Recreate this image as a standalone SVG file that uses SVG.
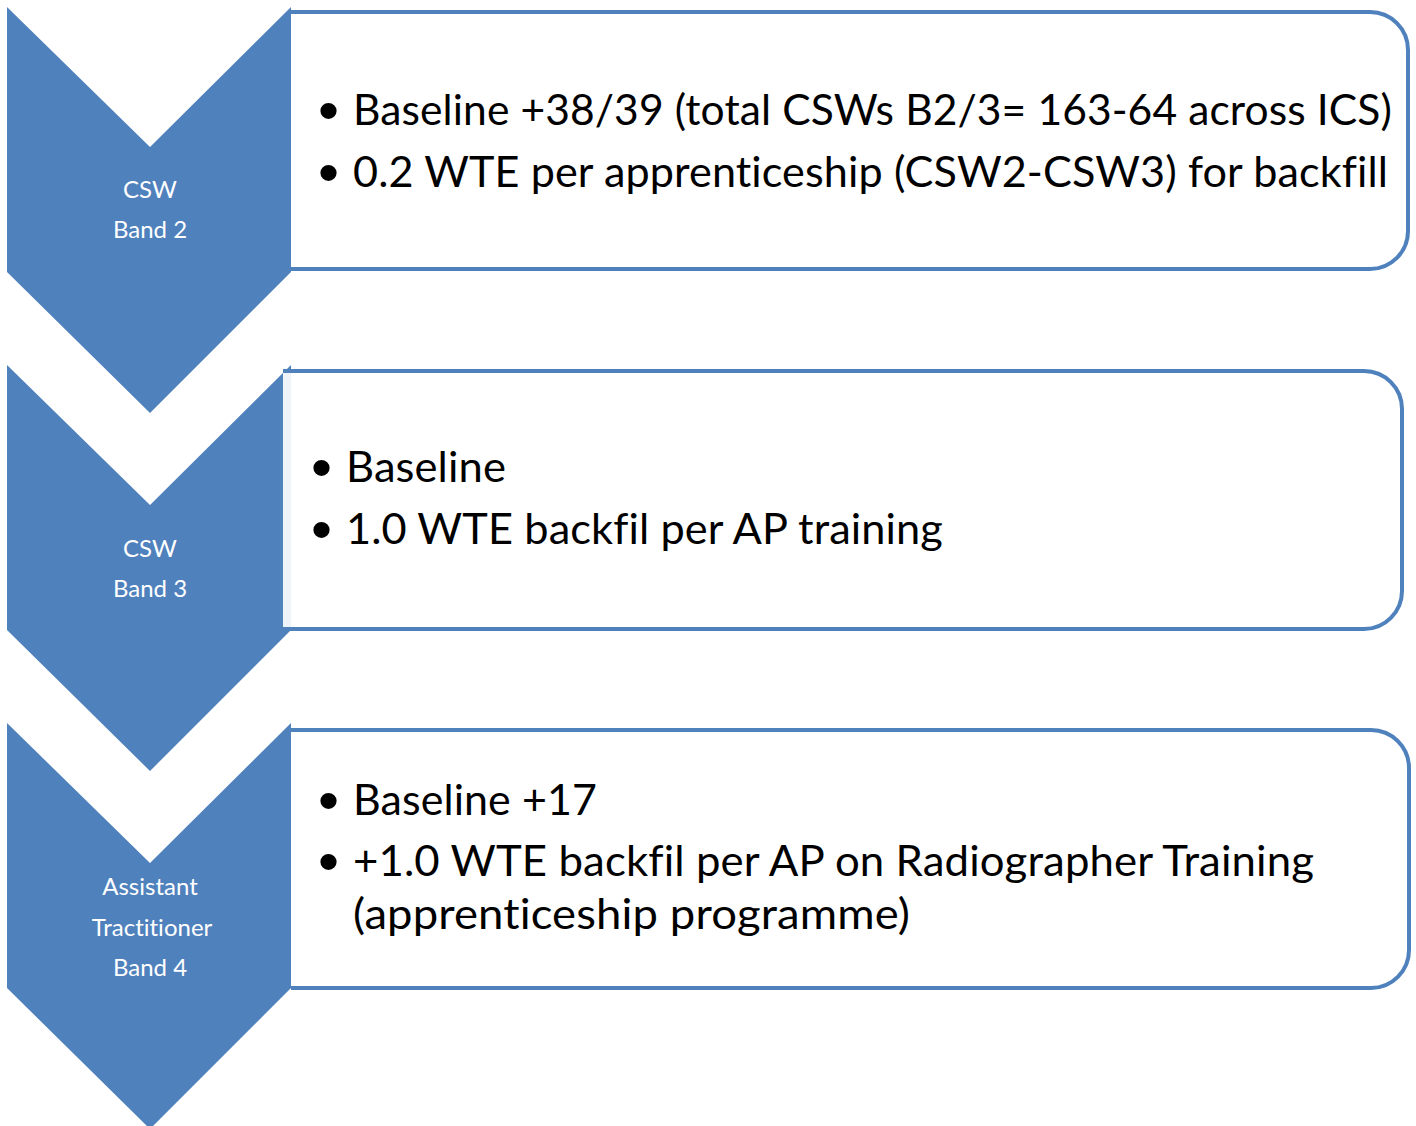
<svg xmlns="http://www.w3.org/2000/svg" width="1416" height="1126" viewBox="0 0 1416 1126">
<style>
.chev{fill:#4F81BD;stroke:none}
.box{fill:#ffffff;stroke:#4F81BD;stroke-width:4}
.lbl{font-family:Lato,"Open Sans",sans-serif;font-size:24px;fill:#ffffff;text-anchor:middle;font-variant-ligatures:none;font-feature-settings:"liga" 0,"clig" 0}
.txt{font-family:Lato,"Open Sans",sans-serif;font-size:42px;fill:#000000;letter-spacing:0.1px;font-variant-ligatures:none;font-feature-settings:"liga" 0,"clig" 0,"dlig" 0}
.bul{font-family:"Liberation Sans",Arial,sans-serif;font-size:60px;fill:#000000}
</style>
<rect width="1416" height="1126" fill="#ffffff"/>
<g id="box1">
<path class="box" d="M291,12 H1370 A38,38 0 0 1 1408,50 V231 A38,38 0 0 1 1370,269 H291"/>
<text class="bul" x="318" y="131">•</text>
<text class="txt" x="353" y="125" textLength="1039" lengthAdjust="spacingAndGlyphs">Baseline +38/39 (total CSWs B2/3= 163-64 across ICS)</text>
<text class="bul" x="318" y="193">•</text>
<text class="txt" x="353" y="187" textLength="1035" lengthAdjust="spacingAndGlyphs">0.2 WTE per apprenticeship (CSW2-CSW3) for backfill</text>
</g>
<g id="chevron1">
<polygon class="chev" points="7,7 150,147 291,7 291,272 150,413 7,272"/>
<text class="lbl" x="150" y="198">CSW</text>
<text class="lbl" x="150" y="238">Band 2</text>
</g>
<g id="chevron2">
<polygon class="chev" points="7,365 150,505 291,365 291,630 150,771 7,630"/>
<text class="lbl" x="150" y="557">CSW</text>
<text class="lbl" x="150" y="597">Band 3</text>
</g>
<g id="box2">
<path d="M283,371 H1364 A38,38 0 0 1 1402,409 V591 A38,38 0 0 1 1364,629 H283" fill="#ffffff" fill-opacity="0.9" stroke="#4F81BD" stroke-width="4"/>
<text class="bul" x="311" y="488">•</text>
<text class="txt" x="346" y="482" textLength="160" lengthAdjust="spacingAndGlyphs">Baseline</text>
<text class="bul" x="311" y="550">•</text>
<text class="txt" x="346" y="544" textLength="597" lengthAdjust="spacingAndGlyphs">1.0 WTE backfil per AP training</text>
</g>
<g id="box3">
<path class="box" d="M291,730 H1371 A38,38 0 0 1 1409,768 V950 A38,38 0 0 1 1371,988 H291"/>
<text class="bul" x="318" y="821">•</text>
<text class="txt" x="353" y="815" textLength="244" lengthAdjust="spacingAndGlyphs">Baseline +17</text>
<text class="bul" x="318" y="882">•</text>
<text class="txt" x="353" y="876" textLength="961" lengthAdjust="spacingAndGlyphs">+1.0 WTE backfil per AP on Radiographer Training</text>
<text class="txt" x="353" y="929" textLength="557" lengthAdjust="spacingAndGlyphs">(apprenticeship programme)</text>
</g>
<g id="chevron3">
<polygon class="chev" points="7,723 150,863 291,723 291,988 150,1129 7,988"/>
<text class="lbl" x="150" y="895">Assistant</text>
<text class="lbl" x="152" y="936">Tractitioner</text>
<text class="lbl" x="150" y="976">Band 4</text>
</g>
<g id="connectors"/>
</svg>
